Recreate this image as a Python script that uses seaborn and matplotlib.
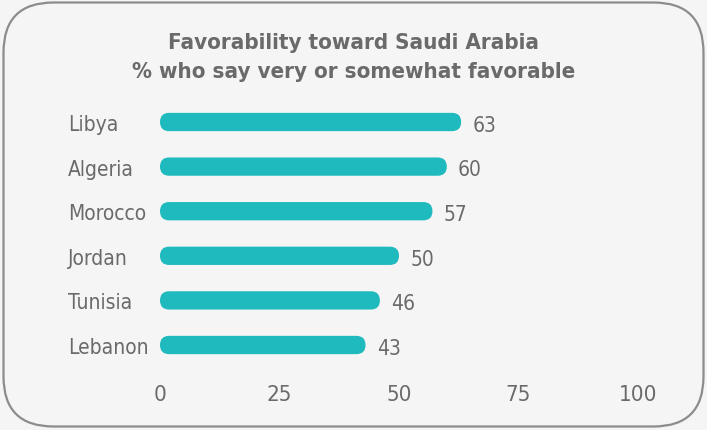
import matplotlib
matplotlib.use("Agg")
import matplotlib.pyplot as plt
from matplotlib.patches import FancyBboxPatch
import seaborn as sns
import pandas as pd

# Survey results
countries = ["Libya", "Algeria", "Morocco", "Jordan", "Tunisia", "Lebanon"]
favorable = [63, 60, 57, 50, 46, 43]
x_ticks = [0, 25, 50, 75, 100]
title_line1 = "Favorability toward Saudi Arabia"
title_line2 = "% who say very or somewhat favorable"

BG = "#f5f5f5"
BAR = "#1ebabd"
TEXT = "#6a6a6a"
BORDER = "#8c8c8c"

sns.set_theme(style="white")
plt.rcParams["font.family"] = ["DejaVu Sans"]
plt.rcParams["font.stretch"] = "condensed"

df = pd.DataFrame({"country": countries, "value": favorable})

fig = plt.figure(figsize=(7.07, 4.31), dpi=100, facecolor=BG)
ax = fig.add_axes([160 / 707, 1 - 368.3 / 431, 478 / 707, 267.6 / 431])
ax.set_facecolor(BG)

sns.barplot(data=df, x="value", y="country", color=BAR, width=0.41,
            saturation=1, ax=ax, orient="h")

ax.set_xlim(0, 100)
ax.set_ylim(5.5, -0.5)
ax.set_xlabel("")
ax.set_ylabel("")
ax.set_xticks(x_ticks)
ax.set_xticklabels([str(t) for t in x_ticks])
for s in ax.spines.values():
    s.set_visible(False)
ax.tick_params(axis="x", length=0, pad=12, labelsize=16, labelcolor=TEXT)
ax.tick_params(axis="y", length=0, pad=66, labelsize=15, labelcolor=TEXT)
for lbl in ax.get_yticklabels():
    lbl.set_horizontalalignment("left")

# Replace the square bars with pill-shaped ones
fig.canvas.draw()
to_px = ax.transData
p0 = to_px.transform((0, 0))
p1 = to_px.transform((1, 1))
px_per_x = abs(p1[0] - p0[0])
px_per_y = abs(p1[1] - p0[1])
aspect = px_per_x / px_per_y
rects = list(ax.patches)
for p in rects:
    x0, y0, w, h = p.get_x(), p.get_y(), p.get_width(), p.get_height()
    r = (abs(h) / 2) / aspect
    pill = FancyBboxPatch((x0, y0), w, h,
                          boxstyle=f"round,pad=0,rounding_size={r}",
                          mutation_aspect=aspect,
                          facecolor=BAR, edgecolor="none")
    p.remove()
    ax.add_patch(pill)

for i, v in enumerate(favorable):
    ax.annotate(str(v), xy=(v, i), xytext=(8, -2), textcoords="offset points",
                ha="left", va="center", fontsize=15, color=TEXT)

fig.text(0.5, 1 - 43 / 431, title_line1, ha="center", va="center",
         fontsize=16, fontweight="bold", color=TEXT)
fig.text(0.5, 1 - 72 / 431, title_line2, ha="center", va="center",
         fontsize=16, fontweight="bold", color=TEXT)

frame = FancyBboxPatch((0.035, 0.035), 7.0, 4.24,
                       boxstyle="round,pad=0,rounding_size=0.5",
                       transform=fig.dpi_scale_trans, facecolor="none",
                       edgecolor=BORDER, linewidth=1.6)
fig.patches.append(frame)

fig.savefig("out.png", dpi=100, facecolor=BG)
